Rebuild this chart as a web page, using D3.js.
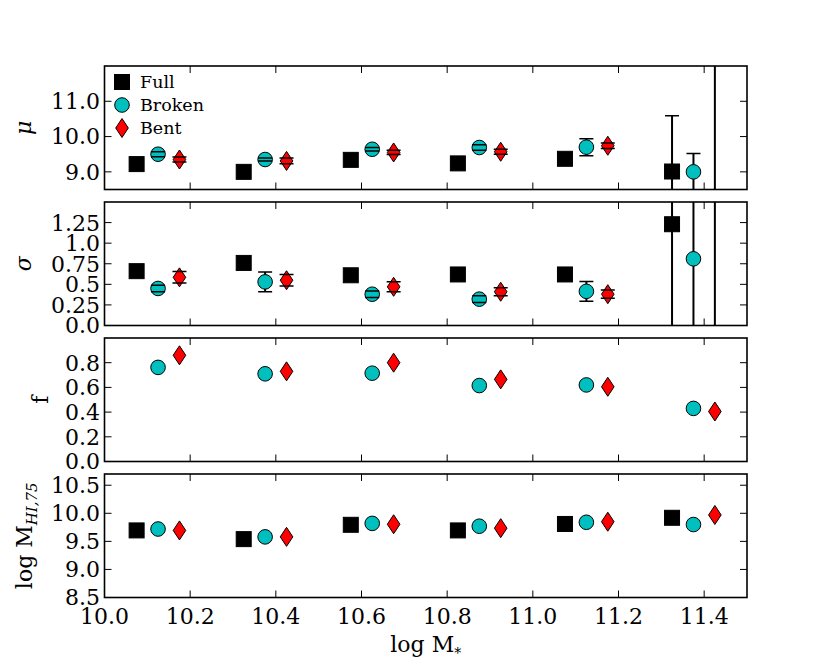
<!DOCTYPE html>
<html>
<head>
<meta charset="utf-8">
<script src="https://cdn.jsdelivr.net/npm/d3@7"></script>
<style>
body { margin: 0; background: #fff; }
text { font-family: "DejaVu Serif", serif; fill: #000; }
</style>
</head>
<body>
<script>
// bin centres for each sample
var xFull = [10.075, 10.325, 10.575, 10.825, 11.075, 11.325];
var xBroken = [10.125, 10.375, 10.625, 10.875, 11.125, 11.375];
var xBent = [10.175, 10.425, 10.675, 10.925, 11.175, 11.425];

var muFull = [9.22, 9.00, 9.34, 9.24, 9.37, 9.01];
var muFullErr = [0.04, 0.04, 0.04, 0.04, 0.04, 1.58];
var muBroken = [9.50, 9.35, 9.64, 9.69, 9.70, 9.00];
var muBrokenErr = [0.07, 0.04, 0.05, 0.08, 0.24, 0.52];
var muBent = [9.35, 9.31, 9.55, 9.57, 9.74, 13.5];
var muBentErr = [0.07, 0.08, 0.06, 0.07, 0.08, 6.0];

var sigFull = [0.66, 0.76, 0.61, 0.62, 0.62, 1.23];
var sigFullErr = [0.03, 0.03, 0.03, 0.03, 0.03, 1.6];
var sigBroken = [0.45, 0.53, 0.38, 0.32, 0.415, 0.81];
var sigBrokenErr = [0.04, 0.12, 0.04, 0.04, 0.12, 1.2];
var sigBent = [0.585, 0.55, 0.47, 0.41, 0.38, 2.0];
var sigBentErr = [0.07, 0.07, 0.06, 0.05, 0.05, 3.0];

var fBroken = [0.762, 0.71, 0.715, 0.615, 0.62, 0.43];
var fBent = [0.86, 0.73, 0.80, 0.665, 0.605, 0.405];

var mhiFull = [9.695, 9.54, 9.795, 9.695, 9.81, 9.92];
var mhiBroken = [9.72, 9.58, 9.82, 9.77, 9.84, 9.80];
var mhiBent = [9.695, 9.58, 9.805, 9.735, 9.85, 9.97];

var xTicks = [10.0, 10.2, 10.4, 10.6, 10.8, 11.0, 11.2, 11.4];
var legendNames = ["Full", "Broken", "Bent"];

var w = 830, h = 664;
var left = 104.5, right = 747;
var panelH = 123.5;
var tops = [66, 202, 338, 474];

var svg = d3.select("body").append("svg")
    .attr("width", w)
    .attr("height", h);

var x = d3.scaleLinear().domain([10, 11.5]).range([left, right]);

var panels = [
    {domain: [8.5, 12.0], ticks: [9.0, 10.0, 11.0], fmt: d3.format(".1f"), label: "mu",
     series: [
        {kind: "Full", xs: xFull, ys: muFull, err: muFullErr},
        {kind: "Broken", xs: xBroken, ys: muBroken, err: muBrokenErr},
        {kind: "Bent", xs: xBent, ys: muBent, err: muBentErr}]},
    {domain: [0, 1.5], ticks: [0.0, 0.25, 0.5, 0.75, 1.0, 1.25], fmt: function(d) {
        return (d === 0.25 || d === 0.75 || d === 1.25) ? d3.format(".2f")(d) : d3.format(".1f")(d); }, label: "sigma",
     series: [
        {kind: "Full", xs: xFull, ys: sigFull, err: sigFullErr},
        {kind: "Broken", xs: xBroken, ys: sigBroken, err: sigBrokenErr},
        {kind: "Bent", xs: xBent, ys: sigBent, err: sigBentErr}]},
    {domain: [0, 1.0], ticks: [0.0, 0.2, 0.4, 0.6, 0.8], fmt: d3.format(".1f"), label: "f",
     series: [
        {kind: "Broken", xs: xBroken, ys: fBroken},
        {kind: "Bent", xs: xBent, ys: fBent}]},
    {domain: [8.5, 10.7], ticks: [8.5, 9.0, 9.5, 10.0, 10.5], fmt: d3.format(".1f"), label: "mhi",
     series: [
        {kind: "Full", xs: xFull, ys: mhiFull},
        {kind: "Broken", xs: xBroken, ys: mhiBroken},
        {kind: "Bent", xs: xBent, ys: mhiBent}]}
];

function drawMarker(g, kind, cx, cy) {
    if (kind === "Full") {
        g.append("rect").attr("x", cx - 7.5).attr("y", cy - 7.5)
            .attr("width", 15).attr("height", 15)
            .attr("fill", "#000").attr("stroke", "#000").attr("stroke-width", 1);
    } else if (kind === "Broken") {
        g.append("circle").attr("cx", cx).attr("cy", cy).attr("r", 7.3)
            .attr("fill", "#00bfbf").attr("stroke", "#000").attr("stroke-width", 1);
    } else {
        g.append("path")
            .attr("d", "M" + cx + "," + (cy - 9.5) + "L" + (cx + 6.3) + "," + cy +
                "L" + cx + "," + (cy + 9.5) + "L" + (cx - 6.3) + "," + cy + "Z")
            .attr("fill", "#ff0000").attr("stroke", "#000").attr("stroke-width", 1);
    }
}

panels.forEach(function(p, pi) {
    var top = tops[pi];
    var y = d3.scaleLinear().domain(p.domain).range([top + panelH, top]);
    var g = svg.append("g");

    svg.append("clipPath").attr("id", "clip" + pi)
        .append("rect").attr("x", left).attr("y", top)
        .attr("width", right - left).attr("height", panelH);

    var data = g.append("g").attr("clip-path", "url(#clip" + pi + ")");

    // error bar stems first
    p.series.forEach(function(s) {
        if (!s.err) return;
        s.xs.forEach(function(xv, i) {
            data.append("line")
                .attr("x1", x(xv)).attr("x2", x(xv))
                .attr("y1", y(s.ys[i] - s.err[i])).attr("y2", y(s.ys[i] + s.err[i]))
                .attr("stroke", "#000").attr("stroke-width", 2);
        });
    });
    // markers
    p.series.forEach(function(s) {
        s.xs.forEach(function(xv, i) {
            drawMarker(data, s.kind, x(xv), y(s.ys[i]));
        });
    });
    // caps on top
    p.series.forEach(function(s) {
        if (!s.err) return;
        s.xs.forEach(function(xv, i) {
            [s.ys[i] - s.err[i], s.ys[i] + s.err[i]].forEach(function(v) {
                data.append("line")
                    .attr("x1", x(xv) - 7).attr("x2", x(xv) + 7)
                    .attr("y1", y(v)).attr("y2", y(v))
                    .attr("stroke", "#000").attr("stroke-width", 1.5);
            });
        });
    });

    // ticks, inside on all four sides
    var tk = g.append("g").attr("stroke", "#000").attr("stroke-width", 1);
    xTicks.forEach(function(t) {
        tk.append("line").attr("x1", x(t)).attr("x2", x(t))
            .attr("y1", top).attr("y2", top + 7);
        tk.append("line").attr("x1", x(t)).attr("x2", x(t))
            .attr("y1", top + panelH).attr("y2", top + panelH - 7);
    });
    p.ticks.forEach(function(t) {
        tk.append("line").attr("x1", left).attr("x2", left + 7)
            .attr("y1", y(t)).attr("y2", y(t));
        tk.append("line").attr("x1", right).attr("x2", right - 7)
            .attr("y1", y(t)).attr("y2", y(t));
        g.append("text").attr("x", left - 4.5).attr("y", y(t))
            .attr("dy", "0.36em").attr("text-anchor", "end")
            .attr("font-size", 22).text(p.fmt(t));
    });

    g.append("rect").attr("x", left).attr("y", top)
        .attr("width", right - left).attr("height", panelH)
        .attr("fill", "none").attr("stroke", "#000").attr("stroke-width", 1.6);

    var cy = top + panelH / 2;
    if (p.label === "mu") {
        g.append("text").attr("transform", "translate(31," + cy + ") rotate(-90)")
            .attr("text-anchor", "middle").attr("font-size", 22)
            .attr("font-style", "italic").text("μ");
    } else if (p.label === "sigma") {
        g.append("text").attr("transform", "translate(31," + cy + ") rotate(-90)")
            .attr("text-anchor", "middle").attr("font-size", 22)
            .attr("font-style", "italic").text("σ");
    } else if (p.label === "f") {
        g.append("text").attr("transform", "translate(48," + cy + ") rotate(-90)")
            .attr("text-anchor", "middle").attr("font-size", 22).text("f");
    } else {
        var t = g.append("text").attr("transform", "translate(32," + cy + ") rotate(-90)")
            .attr("text-anchor", "middle").attr("font-size", 22);
        t.append("tspan").text("log M");
        t.append("tspan").attr("font-size", 15).attr("font-style", "italic")
            .attr("dy", 5).text("HI,75");
    }

    if (pi === 3) {
        xTicks.forEach(function(tv) {
            g.append("text").attr("x", x(tv)).attr("y", top + panelH + 26)
                .attr("text-anchor", "middle").attr("font-size", 22)
                .text(d3.format(".1f")(tv));
        });
    }
});

// x axis label
var xl = svg.append("text").attr("x", (left + right) / 2).attr("y", 652)
    .attr("text-anchor", "middle").attr("font-size", 22);
xl.append("tspan").text("log M");
xl.append("tspan").attr("font-size", 14).attr("dy", 6).text("*");

// legend in the top panel
var leg = svg.append("g");
legendNames.forEach(function(name, i) {
    var ly = 82 + i * 23;
    drawMarker(leg, name, 122, ly);
    leg.append("text").attr("x", 140).attr("y", ly).attr("dy", "0.36em")
        .attr("font-size", 17.5).text(name);
});
</script>
</body>
</html>
